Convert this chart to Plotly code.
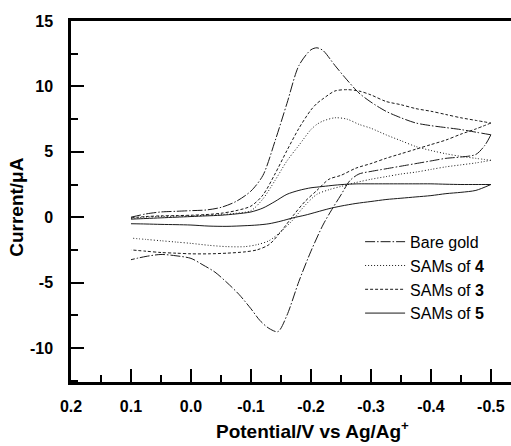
import plotly.graph_objects as go

# ---- Data (potential in V, current in µA) ----
fwd_x = [0.1, 0.075, 0.05, 0.025, 0.0, -0.025, -0.05, -0.075, -0.1, -0.12, -0.14, -0.16, -0.18,
         -0.2, -0.21, -0.22, -0.24, -0.26, -0.28, -0.3, -0.325, -0.35, -0.375, -0.4, -0.425,
         -0.45, -0.475, -0.5]

bare_fwd = [0.0, 0.25, 0.4, 0.45, 0.5, 0.55, 0.75, 1.2, 2.0, 3.2, 5.8, 8.7, 11.6,
            12.8, 12.95, 12.75, 11.6, 10.5, 9.5, 8.8, 8.1, 7.6, 7.2, 7.0, 6.85,
            6.7, 6.5, 6.3]
sam4_fwd = [-0.1, 0.0, 0.05, 0.08, 0.1, 0.15, 0.2, 0.3, 0.5, 1.4, 2.8, 4.3, 5.5,
            6.7, 7.1, 7.35, 7.6, 7.5, 7.1, 6.8, 6.3, 5.85, 5.4, 5.1, 4.85,
            4.65, 4.5, 4.35]
sam3_fwd = [-0.05, 0.05, 0.1, 0.12, 0.15, 0.2, 0.3, 0.5, 0.85, 1.7, 3.3, 5.1, 6.8,
            8.2, 8.7, 9.05, 9.65, 9.75, 9.65, 9.35, 8.85, 8.6, 8.3, 8.1, 7.85,
            7.6, 7.4, 7.2]
sam5_fwd = [-0.15, -0.1, -0.05, 0.0, 0.05, 0.1, 0.15, 0.25, 0.4, 0.7, 1.2, 1.75, 2.05,
            2.25, 2.3, 2.35, 2.45, 2.52, 2.55, 2.55, 2.55, 2.55, 2.55, 2.55, 2.52,
            2.5, 2.5, 2.5]

bare_rev_x = [-0.5, -0.49, -0.475, -0.45, -0.425, -0.4, -0.375, -0.35, -0.325, -0.3, -0.28,
              -0.265, -0.25, -0.235, -0.22, -0.2, -0.18, -0.16, -0.145, -0.13, -0.115, -0.1,
              -0.08, -0.06, -0.04, -0.02, 0.0, 0.025, 0.05, 0.075, 0.1]
bare_rev = [6.3, 5.5, 4.8, 4.6, 4.5, 4.3, 4.1, 3.9, 3.7, 3.5, 3.3,
            2.8, 1.7, 0.6, -0.6, -2.6, -4.9, -7.5, -8.75, -8.5, -7.9, -7.0,
            -5.9, -5.0, -4.2, -3.65, -3.15, -2.95, -2.85, -3.0, -3.25]

rev_x = [-0.5, -0.475, -0.45, -0.425, -0.4, -0.375, -0.35, -0.325, -0.3, -0.275, -0.25,
         -0.23, -0.21, -0.19, -0.17, -0.15, -0.13, -0.11, -0.09, -0.06, -0.03, 0.0,
         0.025, 0.05, 0.075, 0.1]
sam4_rev = [4.35, 4.15, 4.0, 3.85, 3.65, 3.45, 3.3, 3.1, 2.9, 2.65, 2.35,
            2.1, 1.75, 0.9, -0.2, -1.1, -1.8, -2.1, -2.25, -2.25, -2.15, -2.0,
            -1.9, -1.8, -1.7, -1.6]
sam3_rev = [7.2, 6.75, 6.35, 5.9, 5.55, 5.2, 4.85, 4.5, 4.1, 3.75, 3.2,
            2.9, 2.05, 1.2, 0.1, -1.1, -2.1, -2.5, -2.65, -2.75, -2.8, -2.8,
            -2.75, -2.7, -2.6, -2.5]
sam5_rev = [2.5, 2.05, 1.9, 1.8, 1.65, 1.55, 1.45, 1.35, 1.2, 1.05, 0.85,
            0.65, 0.4, 0.15, -0.05, -0.3, -0.5, -0.6, -0.65, -0.7, -0.68, -0.6,
            -0.57, -0.55, -0.52, -0.5]

names = ["Bare gold", "SAMs of <b>4</b>", "SAMs of <b>3</b>", "SAMs of <b>5</b>"]
dashes = ["10px,2px,1.5px,2px", "1px,2px", "3px,2px", "solid"]
fwd_data = [bare_fwd, sam4_fwd, sam3_fwd, sam5_fwd]
rev_xs = [bare_rev_x, rev_x, rev_x, rev_x]
rev_data = [bare_rev, sam4_rev, sam3_rev, sam5_rev]

x_ticks = [0.2, 0.1, 0.0, -0.1, -0.2, -0.3, -0.4, -0.5]
x_ticktext = ["0.2", "0.1", "0.0", "-0.1", "-0.2", "-0.3", "-0.4", "-0.5"]
y_ticks = [-10, -5, 0, 5, 10, 15]
y_ticktext = ["-10", "-5", "0", "5", "10", "15"]
x_title = "Potential/V vs Ag/Ag<sup>+</sup>"
y_title = "Current/μA"

LINE_COLOR = "#1a1a1a"
FONT = "Liberation Sans, Arial, sans-serif"

fig = go.Figure()
for i, name in enumerate(names):
    fig.add_trace(go.Scatter(
        x=fwd_x, y=fwd_data[i], mode="lines", name=name, legendgroup=str(i),
        line=dict(color=LINE_COLOR, width=1, dash=dashes[i], shape="spline", smoothing=0.8),
    ))
for i, name in enumerate(names):
    fig.add_trace(go.Scatter(
        x=rev_xs[i], y=rev_data[i], mode="lines", name=name, legendgroup=str(i),
        showlegend=False,
        line=dict(color=LINE_COLOR, width=1, dash=dashes[i], shape="spline", smoothing=0.8),
    ))

axis_common = dict(
    showgrid=False, zeroline=False, showline=True, linecolor="black", linewidth=2.5,
    ticks="inside", ticklen=13, tickwidth=2, tickcolor="black",
    tickfont=dict(family=FONT, size=16, color="black", weight="bold"),
)

fig.update_layout(
    width=511, height=446,
    margin=dict(l=71, r=0, t=21, b=64),
    paper_bgcolor="white", plot_bgcolor="white",
    xaxis=dict(
        **axis_common,
        range=[0.2, -0.5335], tickmode="array",
        tickvals=x_ticks, ticktext=x_ticktext,
        minor=dict(dtick=0.05, tick0=0.0, ticks="inside", ticklen=7, tickwidth=2, tickcolor="black"),
        mirror=True, ticklabelstandoff=8,
    ),
    yaxis=dict(
        **axis_common,
        range=[-12.6, 15], tickmode="array",
        tickvals=y_ticks, ticktext=y_ticktext,
        minor=dict(dtick=2.5, tick0=0, ticks="inside", ticklen=7, tickwidth=2, tickcolor="black"),
        mirror=False, ticklabelstandoff=12,
    ),
    annotations=[
        dict(text=x_title, xref="paper", yref="paper", x=0.548, y=-0.172,
             xanchor="center", yanchor="bottom", showarrow=False,
             font=dict(family=FONT, size=19, color="black", weight="bold")),
        dict(text=y_title, xref="paper", yref="paper", x=-0.123, y=0.485,
             xanchor="center", yanchor="middle", showarrow=False, textangle=-90,
             font=dict(family=FONT, size=19, color="black", weight="bold")),
    ],
    legend=dict(
        x=0.657, y=0.4355, xanchor="left", yanchor="top",
        bgcolor="rgba(0,0,0,0)", borderwidth=0,
        font=dict(family=FONT, size=16, color="black"),
        tracegroupgap=0, itemwidth=40,
    ),
    showlegend=True,
)

fig.write_html("out.html")
